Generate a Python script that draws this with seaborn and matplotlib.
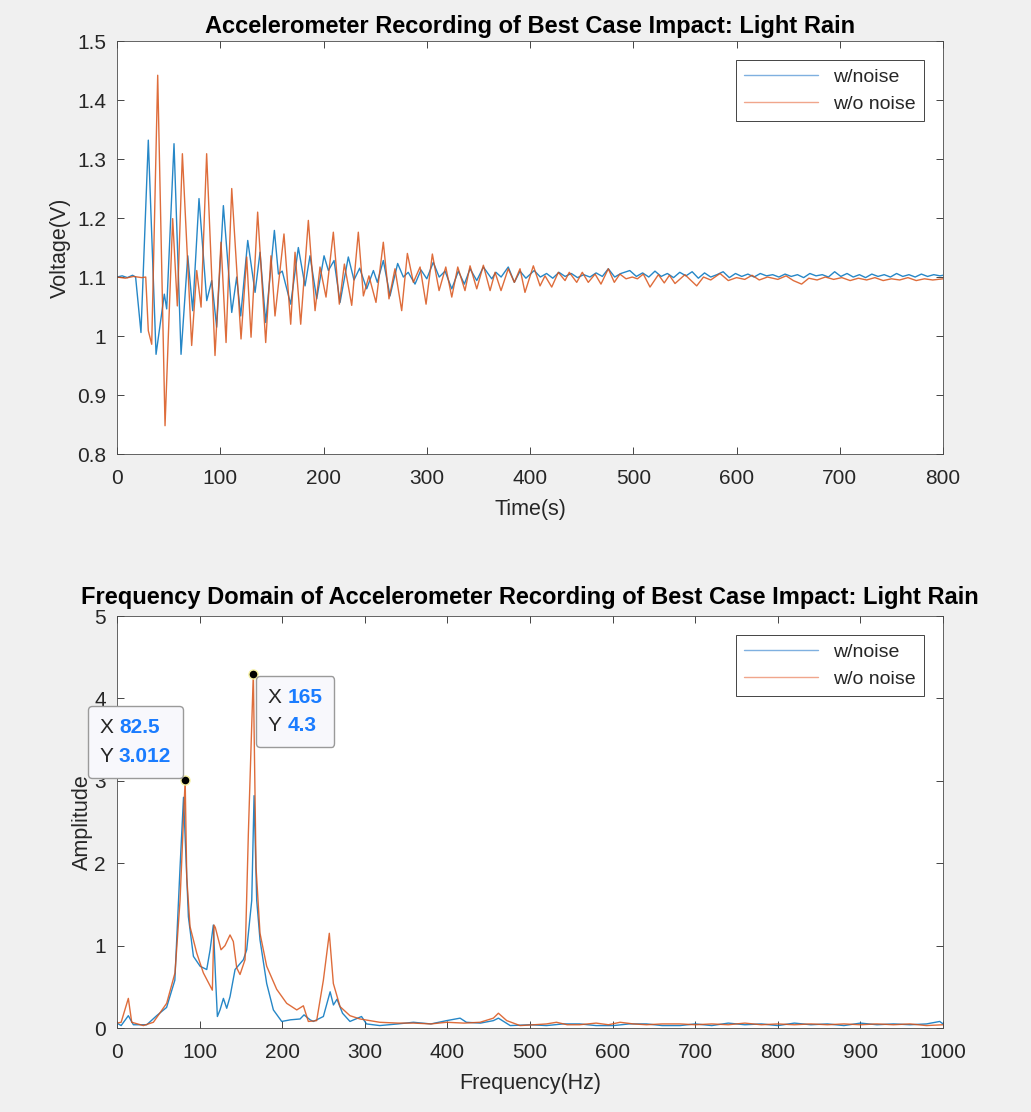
import numpy as np
import pandas as pd
import matplotlib
matplotlib.use("Agg")
import matplotlib.pyplot as plt
import seaborn as sns
from matplotlib.offsetbox import TextArea, HPacker, VPacker, AnnotationBbox

# --- senal en el tiempo ---
t_noise = [0, 5, 10, 15, 18, 23.2, 30.3, 37.8, 45.8, 48.1, 55.2, 62.0, 68.5, 73.3, 79.4, 86.9, 91.7,
           96.5, 103.0, 111.1, 115.9, 119.8, 126.6, 133.7, 138.5, 144.0, 152.4, 156.3, 160, 168.2,
           175.6, 182.1, 186.9, 193.4, 200.5, 204.7, 210.2, 216.0, 224.0, 229.5, 235, 241.8, 248.3,
           252.1, 257.9, 264.4, 271.8, 277.3, 282, 288.6, 294.4, 300.0, 306.3, 312.0, 317.7, 324.2,
           330.6, 336.4, 341.9, 348.4, 354.8, 362.9, 367, 372, 378.9, 384.8, 390.3, 396, 404, 410,
           416, 422, 428, 434, 440, 446, 452, 458, 464, 470, 475.8, 482, 488, 496.6, 503, 509, 515,
           521, 527, 533, 539, 545, 551, 557, 563, 569, 575, 581, 587, 593, 599, 605, 611, 617, 623,
           629, 635, 641, 647, 653, 659, 665, 671, 677, 683, 689, 695, 701, 707, 713, 719, 725, 731,
           737, 743, 749, 755, 761, 767, 773, 779, 785, 791, 797, 800]
v_noise = [1.100, 1.102, 1.099, 1.103, 1.100, 1.006, 1.332, 0.969, 1.071, 1.046, 1.326, 0.969, 1.136,
           1.043, 1.233, 1.060, 1.094, 1.015, 1.221, 1.040, 1.100, 1.034, 1.162, 1.074, 1.142, 1.023,
           1.179, 1.105, 1.110, 1.054, 1.150, 1.085, 1.136, 1.063, 1.136, 1.111, 1.128, 1.057, 1.134,
           1.095, 1.115, 1.080, 1.111, 1.091, 1.128, 1.068, 1.123, 1.100, 1.108, 1.088, 1.112, 1.097,
           1.125, 1.100, 1.110, 1.080, 1.110, 1.088, 1.114, 1.094, 1.117, 1.097, 1.108, 1.100, 1.117,
           1.091, 1.110, 1.098, 1.111, 1.100, 1.106, 1.098, 1.108, 1.101, 1.106, 1.099, 1.104, 1.100,
           1.107, 1.101, 1.114, 1.100, 1.106, 1.111, 1.101, 1.107, 1.100, 1.110, 1.101, 1.106, 1.099,
           1.108, 1.102, 1.109, 1.098, 1.107, 1.100, 1.104, 1.109, 1.099, 1.106, 1.101, 1.105, 1.100,
           1.106, 1.102, 1.104, 1.100, 1.105, 1.101, 1.104, 1.099, 1.106, 1.102, 1.104, 1.100, 1.109,
           1.101, 1.106, 1.100, 1.104, 1.099, 1.105, 1.101, 1.104, 1.100, 1.106, 1.101, 1.104, 1.100,
           1.105, 1.101, 1.104, 1.102, 1.103]

t_clean = [0, 8, 16, 24, 27.8, 30.3, 33.6, 39.4, 46.5, 53.9, 58.4, 63.3, 72.3, 77.2, 81.4, 86.8, 94.9,
           100.7, 105.6, 111.1, 120.1, 125.6, 129.8, 136.2, 144.0, 149.1, 153.0, 161.7, 168.2, 172.4,
           177.9, 185.3, 191.8, 196.6, 202.4, 209.5, 215.3, 220.2, 227.3, 233.7, 238.6, 244.0, 250.8,
           257.9, 263.4, 269.2, 275.7, 281.2, 287.0, 293.5, 299.3, 305.4, 311.9, 318.4, 324.2, 330.0,
           337.0, 341.9, 348.4, 354.8, 361.3, 366.1, 371.9, 378.9, 384.8, 390.3, 395.1, 403.2, 409.7,
           414.5, 421.0, 427.4, 433.9, 438.0, 445.2, 450.6, 456.4, 463.0, 468.7, 475.8, 481.6, 487.0,
           493.0, 499.0, 504, 509.7, 516.2, 524.3, 530, 535, 540.4, 550, 561.4, 568, 575, 584, 592,
           600, 608, 615, 622, 630, 640, 648, 655, 663, 670, 678, 686, 694, 702, 710, 718, 726, 734,
           742, 750, 758, 766, 774, 782, 790, 800]
v_clean = [1.100, 1.098, 1.101, 1.099, 1.100, 1.009, 0.986, 1.442, 0.848, 1.199, 1.051, 1.309, 0.984,
           1.111, 1.049, 1.309, 0.967, 1.159, 0.989, 1.250, 0.995, 1.134, 0.998, 1.210, 0.989, 1.136,
           1.034, 1.173, 1.020, 1.142, 1.020, 1.196, 1.043, 1.117, 1.066, 1.176, 1.054, 1.122, 1.052,
           1.176, 1.068, 1.102, 1.057, 1.159, 1.063, 1.114, 1.043, 1.140, 1.091, 1.117, 1.054, 1.139,
           1.077, 1.117, 1.066, 1.117, 1.077, 1.119, 1.080, 1.120, 1.077, 1.108, 1.077, 1.114, 1.091,
           1.114, 1.074, 1.119, 1.085, 1.102, 1.083, 1.108, 1.094, 1.108, 1.091, 1.108, 1.091, 1.105,
           1.088, 1.114, 1.091, 1.105, 1.097, 1.100, 1.097, 1.105, 1.083, 1.104, 1.090, 1.103, 1.089,
           1.104, 1.085, 1.100, 1.095, 1.106, 1.094, 1.099, 1.096, 1.103, 1.095, 1.100, 1.096, 1.102,
           1.094, 1.088, 1.098, 1.095, 1.100, 1.096, 1.099, 1.094, 1.098, 1.095, 1.099, 1.094, 1.097,
           1.095, 1.099, 1.094, 1.097, 1.095, 1.097]

# --- espectro (FFT) ---
f_noise = [0, 5, 13.7, 19.8, 36, 48, 60, 70, 76.3, 80.5, 86.4, 92.5, 100.6, 108.6, 112.7, 116.6, 119.4,
           121.5, 124.7, 128.8, 132.8, 136.8, 142.9, 153, 157, 163.1, 165.9, 169.1, 173.1, 181.2, 189.3,
           199.4, 210, 221.6, 226.4, 233.7, 237.7, 249.8, 258, 262, 266.3, 273, 282, 296, 302, 318, 340,
           358.8, 380, 399, 415.3, 423, 440, 455.6, 461.7, 476, 500, 520, 540, 560, 580, 601, 620, 641,
           660, 681.6, 700, 720, 740, 760, 780, 800, 820, 840, 860, 880, 900, 920, 940, 960, 980, 996, 1000]
a_noise = [0.06, 0.03, 0.15, 0.04, 0.04, 0.15, 0.25, 0.58, 1.95, 2.8, 1.35, 0.87, 0.75, 0.71, 0.95, 1.25,
           0.58, 0.14, 0.22, 0.36, 0.24, 0.38, 0.71, 0.83, 0.95, 1.55, 2.82, 1.55, 1.07, 0.54, 0.22, 0.08,
           0.10, 0.11, 0.16, 0.10, 0.08, 0.14, 0.44, 0.28, 0.35, 0.18, 0.08, 0.14, 0.05, 0.03, 0.05, 0.07,
           0.05, 0.09, 0.12, 0.07, 0.06, 0.09, 0.12, 0.03, 0.04, 0.03, 0.05, 0.05, 0.03, 0.03, 0.05, 0.05,
           0.03, 0.03, 0.05, 0.03, 0.06, 0.04, 0.05, 0.03, 0.06, 0.04, 0.05, 0.03, 0.06, 0.04, 0.05, 0.04,
           0.05, 0.08, 0.05]

f_clean = [0, 5, 13.7, 17.8, 31.9, 44, 60.1, 70.2, 76.3, 82.5, 84.4, 88.4, 96.5, 104.5, 115.4, 117.4,
           119, 125.9, 130.7, 136.8, 140.8, 144.9, 148.9, 155, 159, 165, 168.3, 173.1, 181.2, 193.3,
           205.4, 217.6, 225.6, 231.6, 241.7, 249.8, 257, 261.9, 270, 282, 294.2, 318, 340, 358.8, 380,
           399, 420, 439.5, 455.6, 461.7, 471.8, 487.9, 505, 520, 532, 545, 560, 580, 595, 609, 625, 641,
           660, 681.6, 700, 720, 740, 760, 780, 800, 820, 840, 860, 880, 900, 920, 940, 960, 980, 1000]
a_clean = [0.06, 0.07, 0.36, 0.07, 0.03, 0.07, 0.30, 0.67, 1.55, 3.012, 1.83, 1.23, 0.91, 0.67, 0.46,
           1.25, 1.22, 0.95, 1.0, 1.13, 1.05, 0.73, 0.65, 0.83, 2.36, 4.3, 1.95, 1.15, 0.75, 0.47, 0.30,
           0.22, 0.27, 0.08, 0.09, 0.58, 1.15, 0.54, 0.26, 0.15, 0.11, 0.07, 0.06, 0.06, 0.05, 0.07, 0.06,
           0.07, 0.12, 0.18, 0.09, 0.03, 0.04, 0.05, 0.07, 0.04, 0.04, 0.06, 0.04, 0.07, 0.05, 0.04, 0.05,
           0.05, 0.04, 0.05, 0.04, 0.06, 0.04, 0.05, 0.04, 0.05, 0.04, 0.05, 0.04, 0.05, 0.04, 0.05, 0.03,
           0.04]

# data tips
tip_freq = [82.5, 165]
tip_amp = [3.012, 4.3]
tip_txt = [("82.5", "3.012"), ("165", "4.3")]

azul = "#0072BD"
naranja = "#D95319"
gris = "#262626"

sns.set_theme(style="white")
plt.rcParams['font.family'] = ['Liberation Sans', 'DejaVu Sans']

fig = plt.figure(figsize=(10.31, 11.12), dpi=100, facecolor="#f0f0f0")
ax1 = fig.add_axes([0.1135, 0.5917, 0.8012, 0.3714])
ax2 = fig.add_axes([0.1135, 0.0755, 0.8012, 0.3705])

df_t1 = pd.DataFrame({"t": t_noise, "v": v_noise})
df_t2 = pd.DataFrame({"t": t_clean, "v": v_clean})
sns.lineplot(data=df_t1, x="t", y="v", color=azul, lw=1.0, alpha=0.85, estimator=None, label="w/noise", ax=ax1)
sns.lineplot(data=df_t2, x="t", y="v", color=naranja, lw=1.0, alpha=0.85, estimator=None, label="w/o noise", ax=ax1)

df_f1 = pd.DataFrame({"f": f_noise, "a": a_noise})
df_f2 = pd.DataFrame({"f": f_clean, "a": a_clean})
sns.lineplot(data=df_f1, x="f", y="a", color=azul, lw=1.0, alpha=0.85, estimator=None, label="w/noise", ax=ax2)
sns.lineplot(data=df_f2, x="f", y="a", color=naranja, lw=1.0, alpha=0.85, estimator=None, label="w/o noise", ax=ax2)

ax1.set_xlim(0, 800)
ax1.set_ylim(0.8, 1.5)
ax1.set_xticks(range(0, 801, 100))
ax1.set_yticks([0.8, 0.9, 1.0, 1.1, 1.2, 1.3, 1.4, 1.5])
ax1.set_yticklabels(["0.8", "0.9", "1", "1.1", "1.2", "1.3", "1.4", "1.5"])
ax1.set_title("Accelerometer Recording of Best Case Impact: Light Rain",
              fontsize=17, fontweight="bold", color="black", pad=6)
ax1.set_xlabel("Time(s)", fontsize=15.5, color=gris, labelpad=8)
ax1.set_ylabel("Voltage(V)", fontsize=15.5, color=gris, labelpad=4)

ax2.set_xlim(0, 1000)
ax2.set_ylim(0, 5)
ax2.set_xticks(range(0, 1001, 100))
ax2.set_yticks(range(0, 6))
ax2.set_title("Frequency Domain of Accelerometer Recording of Best Case Impact: Light Rain",
              fontsize=17, fontweight="bold", color="black", pad=9)
ax2.set_xlabel("Frequency(Hz)", fontsize=15.5, color=gris, labelpad=8)
ax2.set_ylabel("Amplitude", fontsize=15.5, color=gris, labelpad=1)

for ax in (ax1, ax2):
    ax.set_facecolor("white")
    ax.tick_params(direction="in", length=5, width=0.6, labelsize=15, colors=gris, pad=8,
                   bottom=True, left=True, top=True, right=True)
    ax.tick_params(axis="x", pad=11)
    for s in ax.spines.values():
        s.set_color("#4a4a4a")
        s.set_linewidth(0.6)
    leg = ax.legend(loc="upper right", fontsize=14, handlelength=3.8, borderaxespad=1.0,
                    fancybox=False, frameon=True, edgecolor=gris, framealpha=1)
    leg.get_frame().set_linewidth(0.6)
    for txt in leg.get_texts():
        txt.set_color(gris)
    for ln, c in zip(leg.get_lines(), ["#7fb0e0", "#f0a68c"]):
        ln.set_color(c)
        ln.set_alpha(1)
        ln.set_linewidth(1.0)

# data tips en el espectro
ax2.plot(tip_freq, tip_amp, "o", color="black", markersize=6.5, markeredgecolor="#f5f0a0",
         markeredgewidth=1, zorder=6)
alineacion = [((1, 0), (-1.5, 1.5)), ((0, 1), (2, -1.5))]
for (fx, ay), (xv, yv), (ba, off) in zip(zip(tip_freq, tip_amp), tip_txt, alineacion):
    filas = []
    for letra, valor in (("X ", xv), ("Y ", yv)):
        filas.append(HPacker(children=[
            TextArea(letra, textprops=dict(size=15, color=gris)),
            TextArea(valor, textprops=dict(size=15, color="#1a7cff", fontweight="bold"))],
            align="baseline", pad=0, sep=0))
    caja = VPacker(children=filas, align="left", pad=8.5, sep=7)
    ab = AnnotationBbox(caja, (fx, ay), xybox=off, xycoords="data", boxcoords="offset points",
                        box_alignment=ba, frameon=True, annotation_clip=False,
                        bboxprops=dict(boxstyle="round,pad=0,rounding_size=0.25",
                                       fc="#f8f8fc", ec="#9a9a9a", lw=1.0))
    ab.set_zorder(7)
    ax2.add_artist(ab)

fig.savefig("out.png", dpi=100, facecolor=fig.get_facecolor())
